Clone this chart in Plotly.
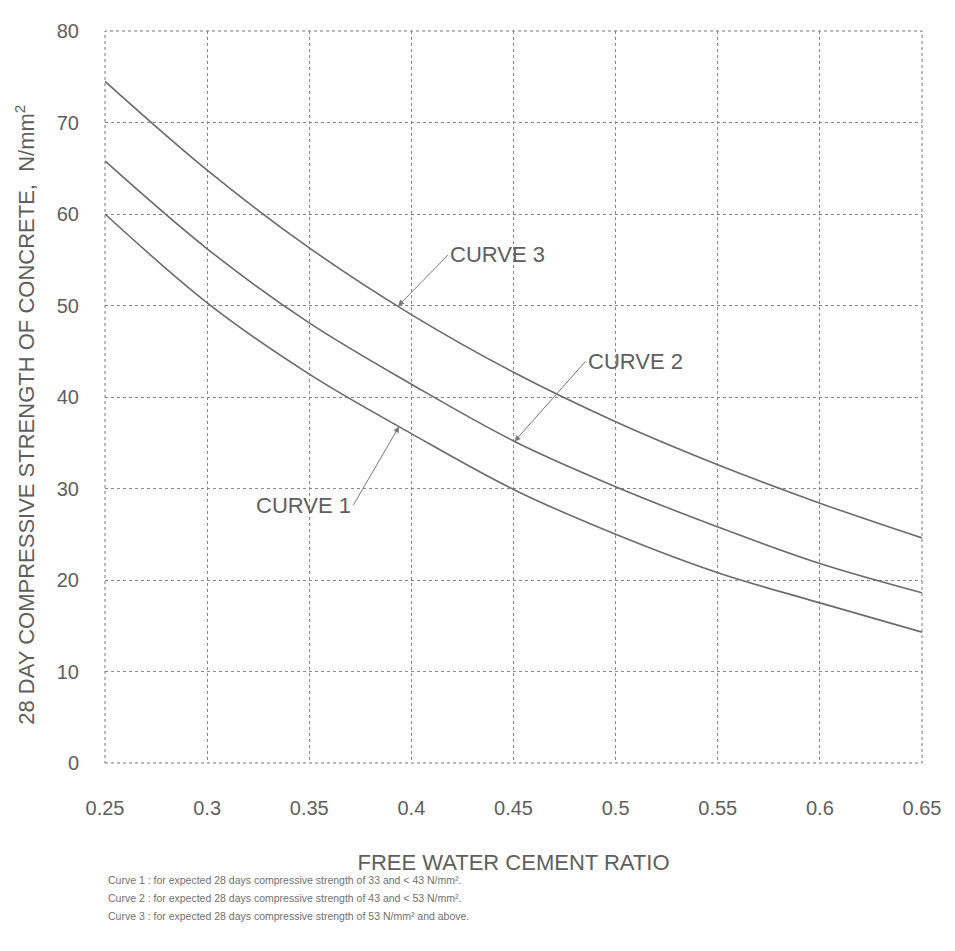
import numpy as np
import plotly.graph_objects as go

wc_ratio = [0.25, 0.30, 0.35, 0.40, 0.45, 0.50, 0.55, 0.60, 0.65]
curve1 = [60.0, 50.3, 42.5, 36.0, 29.9, 25.0, 20.8, 17.5, 14.3]
curve2 = [65.8, 56.2, 48.1, 41.4, 35.2, 30.2, 25.8, 21.8, 18.6]
curve3 = [74.5, 64.8, 56.3, 49.0, 42.7, 37.3, 32.6, 28.4, 24.6]

x_ticks = [0.25, 0.3, 0.35, 0.4, 0.45, 0.5, 0.55, 0.6, 0.65]
x_tick_labels = ["0.25", "0.3", "0.35", "0.4", "0.45", "0.5", "0.55", "0.6", "0.65"]
y_ticks = [0, 10, 20, 30, 40, 50, 60, 70, 80]

y_title = "28 DAY COMPRESSIVE STRENGTH OF CONCRETE,  N/mm<sup>2</sup>"
x_title = "FREE WATER CEMENT RATIO"
notes = [
    "Curve 1 : for expected 28 days compressive strength of 33 and &lt; 43 N/mm².",
    "Curve 2 : for expected 28 days compressive strength of 43 and &lt; 53 N/mm².",
    "Curve 3 : for expected 28 days compressive strength of 53 N/mm² and above.",
]

FONT = "Liberation Sans, Arial, sans-serif"
LINE_COLOR = "#6a6a6a"
TEXT_COLOR = "#5e5e5e"

fig = go.Figure()
for name, ys in [("Curve 1", curve1), ("Curve 2", curve2), ("Curve 3", curve3)]:
    fig.add_trace(go.Scatter(
        x=wc_ratio, y=ys, mode="lines", name=name,
        line=dict(color=LINE_COLOR, width=1.6, shape="spline", smoothing=1.0),
        showlegend=False,
    ))

# curve labels with leader arrows
labels = [
    ("CURVE 3", curve3, 0.3935, 50, -51, "left"),
    ("CURVE 2", curve2, 0.4505, 71, -80, "left"),
    ("CURVE 1", curve1, 0.394, -46, 79, "right"),
]
for text, ys, xp, ax, ay, anchor in labels:
    yp = float(np.interp(xp, wc_ratio, ys))
    fig.add_annotation(
        x=xp, y=yp, xref="x", yref="y", text=text,
        showarrow=True, ax=ax, ay=ay, axref="pixel", ayref="pixel",
        xanchor=anchor, yanchor="middle",
        arrowhead=2, arrowsize=1.2, arrowwidth=1, arrowcolor="#777777",
        font=dict(family=FONT, size=22, color=TEXT_COLOR),
    )

# The page adds an 8px body margin; figure is sized/margined to compensate.
OFF = 8
W, H = 955 - OFF, 951 - OFF
L, R, T, B = 105 - OFF, 33, 21 - OFF, 188
pw, ph = W - L - R, H - T - B


def paper_x(page_x):
    return (page_x - OFF - L) / pw


def paper_y(page_y):
    return (H - B - (page_y - OFF)) / ph


# rotated y-axis title
fig.add_annotation(
    x=paper_x(25), y=paper_y(410), xref="paper", yref="paper", text=y_title,
    textangle=-90, showarrow=False, xanchor="center", yanchor="middle",
    font=dict(family=FONT, size=22, color=TEXT_COLOR),
)

# notes below the chart
for i, note in enumerate(notes):
    fig.add_annotation(
        x=paper_x(106), y=paper_y(882 + i * 18), xref="paper", yref="paper", text=note,
        showarrow=False, xanchor="left", yanchor="middle",
        font=dict(family=FONT, size=10.5, color="#707070"),
    )

fig.add_shape(type="rect", xref="paper", yref="paper", x0=0, y0=0, x1=1, y1=1,
              line=dict(color="#777777", width=1, dash="dot"))

fig.update_layout(
    width=W, height=H,
    margin=dict(l=L, r=R, t=T, b=B),
    paper_bgcolor="white", plot_bgcolor="white",
    font=dict(family=FONT, color=TEXT_COLOR),
    xaxis=dict(
        range=[0.25, 0.65], tickvals=x_ticks, ticktext=x_tick_labels,
        showgrid=True, gridcolor="#888888", griddash="dot", gridwidth=1,
        zeroline=False, showline=False, ticks="",
        tickfont=dict(family=FONT, size=20, color=TEXT_COLOR),
        ticklabelstandoff=31,
        title=dict(text=x_title, standoff=36,
                   font=dict(family=FONT, size=22, color=TEXT_COLOR)),
    ),
    yaxis=dict(
        range=[0, 80], tickvals=y_ticks,
        showgrid=True, gridcolor="#888888", griddash="dot", gridwidth=1,
        zeroline=False, showline=False, ticks="",
        tickfont=dict(family=FONT, size=20, color=TEXT_COLOR),
        ticklabelstandoff=25,
    ),
)

fig.write_html("out.html")
